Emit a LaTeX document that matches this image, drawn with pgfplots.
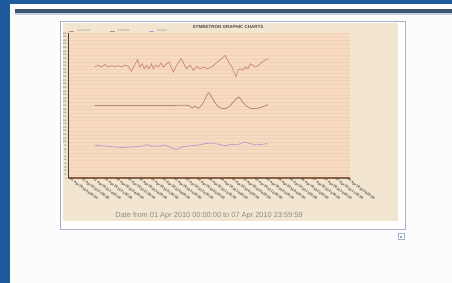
\documentclass[border=0pt]{standalone}
\usepackage{fontspec}
\setmainfont{Liberation Sans}
\usepackage{pgfplots}
\pgfplotsset{compat=1.18}
\definecolor{pageblue}{HTML}{1E5B9C}
\definecolor{darkbar}{HTML}{3A5675}
\definecolor{lightbar}{HTML}{C9D3DB}
\definecolor{framecol}{HTML}{A4B0CC}
\definecolor{beige}{HTML}{F3E6D1}
\definecolor{peach}{HTML}{F6DAC2}
\definecolor{gridc}{HTML}{F1D0B6}
\definecolor{axbrown}{HTML}{8E5E40}
\definecolor{lineA}{HTML}{C98A6C}
\definecolor{lineB}{HTML}{B48C72}
\definecolor{lineC}{HTML}{B59CC9}
\definecolor{txtgray}{HTML}{8E8C80}
\begin{document}
\begin{tikzpicture}[x=1pt,y=1pt]
\useasboundingbox (0,0) rectangle (452,283);
% page
\fill[pageblue] (0,0) rectangle (452,283);
\fill[white!98!gray] (10,0) rectangle (452,279);
\fill[darkbar] (15,270) rectangle (452,273.5);
\fill[lightbar] (15,268) rectangle (452,270);
% chart frame
\fill[white] (60,53) rectangle (405.5,261);
\draw[framecol,line width=1pt] (60,53) rectangle (405.5,261);
\fill[beige] (62.5,62) rectangle (398,260);
% small icon
\draw[framecol,fill=white] (398.5,43.5) rectangle (404.5,49.5);
\fill[framecol!70!gray] (399.5,44.5) rectangle (402,47);
% title and caption
\node[font=\fontsize{4.5}{5}\selectfont\bfseries, text=black!70] at (228,256.5) {SYMBETRON GRAPHIC CHARTS};
\node[font=\fontsize{7.4}{8}\selectfont, text=txtgray] at (209,67) {Date from 01 Apr 2010 00:00:00 to 07 Apr 2010 23:59:59};
\begin{axis}[
  at={(68pt,104.7pt)}, anchor=south west,
  scale only axis, width=282pt, height=145pt,
  xmin=-1.2, xmax=169.8, ymin=0, ymax=400,
  axis background/.style={fill=peach},
  axis x line=bottom, axis y line=left,
  x axis line style={-, axbrown, line width=1.6pt},
  y axis line style={-, black!75, line width=0.5pt},
  ytick={0,10,...,400},
  yticklabel style={font=\fontsize{2.2}{2.5}\selectfont, text=black!70, inner sep=0.6pt},
  /pgf/number format/assume math mode=true,
  ymajorgrids, grid style={gridc, line width=0.25pt},
  major tick length=1pt,
  y tick style={black!70, line width=0.3pt},
  xtick={0,7,...,168},
  x tick style={draw=none},
  xticklabels={01 Apr 2010 00:00:00,01 Apr 2010 07:00:00,01 Apr 2010 14:00:00,01 Apr 2010 21:00:00,02 Apr 2010 04:00:00,02 Apr 2010 11:00:00,02 Apr 2010 18:00:00,03 Apr 2010 01:00:00,03 Apr 2010 08:00:00,03 Apr 2010 15:00:00,03 Apr 2010 22:00:00,04 Apr 2010 05:00:00,04 Apr 2010 12:00:00,04 Apr 2010 19:00:00,05 Apr 2010 02:00:00,05 Apr 2010 09:00:00,05 Apr 2010 16:00:00,05 Apr 2010 23:00:00,06 Apr 2010 06:00:00,06 Apr 2010 13:00:00,06 Apr 2010 20:00:00,07 Apr 2010 03:00:00,07 Apr 2010 10:00:00,07 Apr 2010 17:00:00,08 Apr 2010 00:00:00},
  xticklabel style={rotate=-37, anchor=west, font=\fontsize{3.4}{4}\selectfont\bfseries, text=black!70, inner sep=0.4pt},
  legend style={at={(0.003,1.014)}, anchor=west, draw=none, fill=none,
    font=\fontsize{3}{3.4}\selectfont, text=txtgray, legend columns=3,
    inner sep=0pt,
    /tikz/every odd column/.append style={column sep=1pt},
    /tikz/every even column/.append style={column sep=17pt}},
  legend image code/.code={\draw[#1, line width=0.5pt] (0pt,0pt) -- (5pt,0pt);},
  legend cell align=left,
]
\addplot[lineA, line width=0.7pt] coordinates {
(15.0,307)(17.0,312)(19.1,307)(21.1,314)(23.1,307)(25.2,311)(27.2,307)(29.2,311)
(31.2,307)(33.3,312)(35.3,309)(37.3,296)(39.4,314)(41.0,327)(42.4,307)(43.8,316)
(45.0,302)(46.5,312)(47.9,302)(49.5,316)(50.5,302)(51.9,312)(53.6,307)(55.2,318)
(56.6,307)(58.6,316)(60.1,321)(61.3,307)(62.7,293)(64.7,312)(67.4,330)(69.0,316)
(70.8,302)(72.8,312)(74.9,298)(76.9,309)(78.9,302)(81.0,307)(83.0,302)(86.0,307)
(88.1,316)(91.1,327)(94.1,339)(96.2,321)(98.2,307)(100.6,280)(101.9,298)(103.3,302)
(104.7,298)(106.3,307)(107.9,302)(109.4,316)(110.8,312)(112.4,307)(114.4,312)
(116.5,321)(118.5,326)(120.1,330)};
\addlegendentry{Consumo}
\addplot[lineB, line width=0.8pt, smooth] coordinates {
(15.0,201)(30,201)(45,201)(60,201)(71.8,201)(73.9,194)(75.9,199)(77.9,193)
(81.0,210)(84.0,236)(87.0,215)(90.1,197)(93.1,192)(96.2,197)(99.6,213)(102.3,224)
(105.3,207)(108.4,195)(112.0,192)(116.0,196)(120.1,203)};
\addlegendentry{Potencia}
\addplot[lineC, line width=0.7pt] coordinates {
(15.0,91.0)(23.1,88.3)(31.2,84.7)(37.3,86.5)(43.4,88.3)(46.4,92.9)(49.5,89.2)
(53.6,88.3)(56.6,91.9)(59.7,88.3)(62.7,81.9)(64.7,80.0)(67.7,86.5)(71.8,89.2)
(77.9,91.9)(82.0,95.7)(86.0,97.4)(90.1,93.8)(94.2,90.1)(98.2,93.8)(101.2,91.9)
(104.3,97.4)(106.3,99.3)(109.4,95.7)(112.4,91.9)(116.5,93.8)(120.1,95.7)};
\addlegendentry{Tensi\'on}
\end{axis}
\end{tikzpicture}
\end{document}
